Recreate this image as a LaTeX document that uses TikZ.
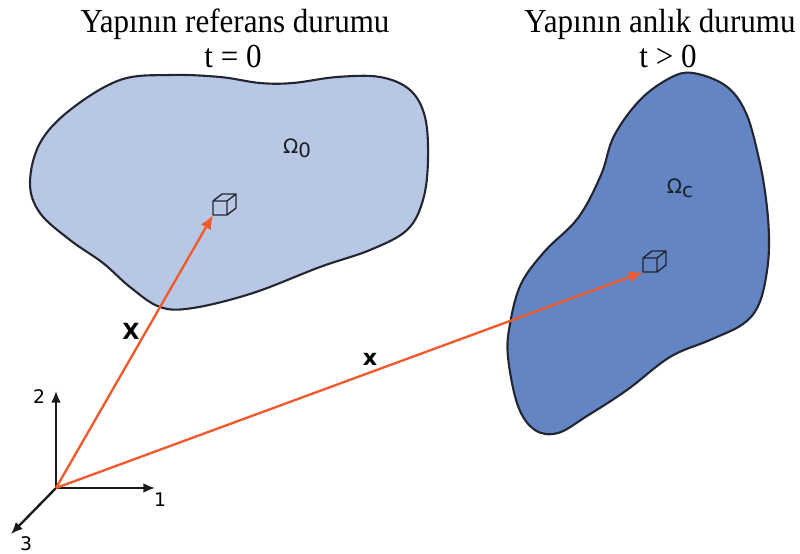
\documentclass[tikz,border=0pt]{standalone}
\usepackage{fontspec}
\setmainfont{Liberation Serif}
\setsansfont{DejaVu Sans}
\definecolor{refblue}{RGB}{184, 200, 228}
\definecolor{curblue}{RGB}{99, 133, 196}
\definecolor{rimgray}{RGB}{35, 38, 48}
\definecolor{vecorange}{RGB}{240, 90, 45}
\usetikzlibrary{arrows.meta, positioning, calc}
\tikzset{
	title/.style={anchor=base, align=center, font=\fontsize{26.5}{30}\selectfont, yscale=1.08},
	body/.style={draw=rimgray, line width=1.8pt},
	bodylabel/.style={font=\sffamily\fontsize{17}{20}\selectfont, text=rimgray!80!black},
	posvec/.style={-{Latex[length=12pt, width=10pt]}, line width=2pt, draw=vecorange},
	veclabel/.style={font=\sffamily\bfseries\fontsize{19}{22}\selectfont},
	axis/.style={-{Latex[length=10pt, width=8.5pt]}, line width=2pt, draw=black!90},
	axislabel/.style={font=\sffamily\fontsize{16}{19}\selectfont},
	volelem/.pic={
		\draw[line width=1.2pt, draw=rimgray, line join=round] (0,0) rectangle (14,-14)
			(0,-14) -- (9,-21) -- (23,-21) -- (14,-14)
			(23,-21) -- (23,-7) -- (14,0);
	},
}
\begin{document}
\begin{tikzpicture}[x=0.03cm, y=-0.03cm]
	\useasboundingbox (0,0) rectangle (800,554);
	% reference and current configuration
	\fill[white] (0,0) rectangle (800,554);
	\draw[body, fill=refblue] plot[smooth cycle, tension=0.6] coordinates {
		(30,183) (40,143) (70,110) (120,80) (170,75) (220,77) (260,83) (293,83)
		(337,77) (380,77) (410,90) (425,117) (428,160) (423,200) (407,230)
		(370,250) (320,267) (253,293) (193,308) (160,307) (130,287) (103,263)
		(70,240) (40,213)};
	\draw[body, fill=curblue] plot[smooth cycle, tension=0.6] coordinates {
		(693,73) (726,86) (746,113) (759,159) (766,199) (769,238) (767,271)
		(759,304) (743,324) (710,340) (670,357) (627,390) (587,416) (558,433)
		(535,430) (518,406) (508,357) (510,324) (521,284) (545,251) (578,218)
		(601,175) (614,136) (640,100) (670,78)};
	\node[title] (reftitle) at (235,32) {Yapının referans durumu};
	\node[title] (reftime) at (233,67) {t = 0};
	\node[title] (curtitle) at (660,32) {Yapının anlık durumu};
	\node[title] (curtime) at (668,67) {t > 0};
	\node[bodylabel] (om0) at (297,148) {Ω\raisebox{-0.35ex}{0}};
	\node[bodylabel] (omc) at (680,188) {Ω\raisebox{-0.35ex}{c}};
	% material elements
	\coordinate (p0) at (213,215);
	\coordinate (pc) at (643,272);
	\pic at (p0) {volelem};
	\pic at (pc) {volelem};
	% axes
	\coordinate (o) at (56,488);
	\coordinate (e1) at (155,488);
	\coordinate (e2) at (56,391);
	\coordinate (e3) at (11,534);
	\draw[axis] (o) -- (e1);
	\draw[axis] (o) -- (e2);
	\draw[axis] (o) -- (e3);
	\node[axislabel] (l1) at (160,500) {1};
	\node[axislabel] (l2) at (39,397) {2};
	\node[axislabel] (l3) at (26,544) {3};
	% position vectors
	\draw[posvec] (o) -- (p0);
	\draw[posvec] (o) -- (pc);
	\node[veclabel] (bigx) at (131,331) {X};
	\node[veclabel] (smallx) at (370,359) {x};
\end{tikzpicture}
\end{document}
